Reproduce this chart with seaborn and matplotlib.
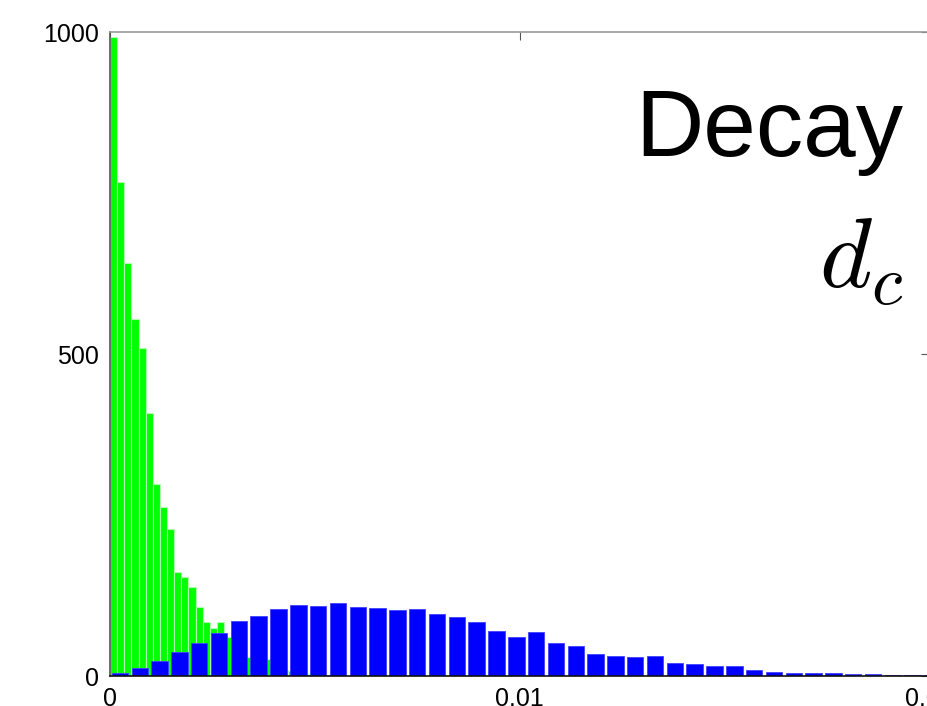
import numpy as np
import matplotlib
matplotlib.use('Agg')
import matplotlib.pyplot as plt
import seaborn as sns

# bin widths
green_width = 0.000174
blue_width = 0.000484

# counts per bin, read left to right
green_counts = [993, 767, 641, 554, 509, 408, 298, 262, 228, 161, 154, 138, 107, 84,
                75, 84, 60, 55, 40, 30, 28, 20, 26, 15, 10, 8, 4, 3, 5, 2, 1, 2, 1,
                0, 1, 0, 1, 0, 0, 1, 0, 0, 1]
blue_counts = [5, 12, 24, 38, 52, 67, 85, 93, 104, 110, 108, 113, 107, 106, 102, 104,
               96, 92, 84, 70, 61, 68, 51, 47, 34, 31, 29, 31, 20, 19, 15, 15, 9, 6,
               4, 5, 4, 3, 3, 2, 1.5, 1]

x_ticks = [0, 0.01, 0.02]
x_ticklabels = ['0', '0.01', '0.02']
y_ticks = [0, 500, 1000]

sns.set_style('white')
plt.rcParams['font.family'] = ['Liberation Sans', 'DejaVu Sans']
plt.rcParams['mathtext.fontset'] = 'cm'
plt.rcParams['text.color'] = 'black'

fig = plt.figure(figsize=(9.27, 7.06), dpi=100)
# right edge sits just past the figure, as in the cropped original
ax = fig.add_axes([110 / 927, 1 - 676 / 706, (929 - 110) / 927, (676 - 32) / 706])

g_centers = (np.arange(len(green_counts)) + 0.5) * green_width
b_centers = (np.arange(len(blue_counts)) + 0.5) * blue_width

sns.histplot(x=g_centers, weights=green_counts, binwidth=green_width,
             binrange=(0, len(green_counts) * green_width), color='#00ff00',
             edgecolor='#b0ffb0', linewidth=0.8, alpha=1, ax=ax)
sns.histplot(x=b_centers, weights=blue_counts, binwidth=blue_width,
             binrange=(0, len(blue_counts) * blue_width), color='#0000ff',
             edgecolor='#4040ff', linewidth=0.6, alpha=1, shrink=0.83, ax=ax)

ax.set_xlim(0, 0.02)
ax.set_ylim(0, 1000)
ax.set_xticks(x_ticks)
ax.set_xticklabels(x_ticklabels)
ax.set_yticks(y_ticks)
ax.set_xlabel('')
ax.set_ylabel('')
ax.tick_params(direction='in', length=6, width=0.8, labelsize=18, labelcolor='#000000',
               color='#555555', top=True, right=True, pad=8)

for side in ['top', 'right']:
    ax.spines[side].set_color('#999999')
ax.spines['left'].set_color('#555555')
ax.spines['bottom'].set_color('#111111')
for s in ax.spines.values():
    s.set_linewidth(1.2)

fig.text(903 / 927, 1 - 156 / 706, 'Decay', ha='right', va='baseline', fontsize=68,
         color='black')
fig.text(903 / 927, 1 - 288 / 706, r'$d_c$', ha='right', va='baseline', fontsize=72,
         color='black')

fig.savefig('out.png', dpi=100)
